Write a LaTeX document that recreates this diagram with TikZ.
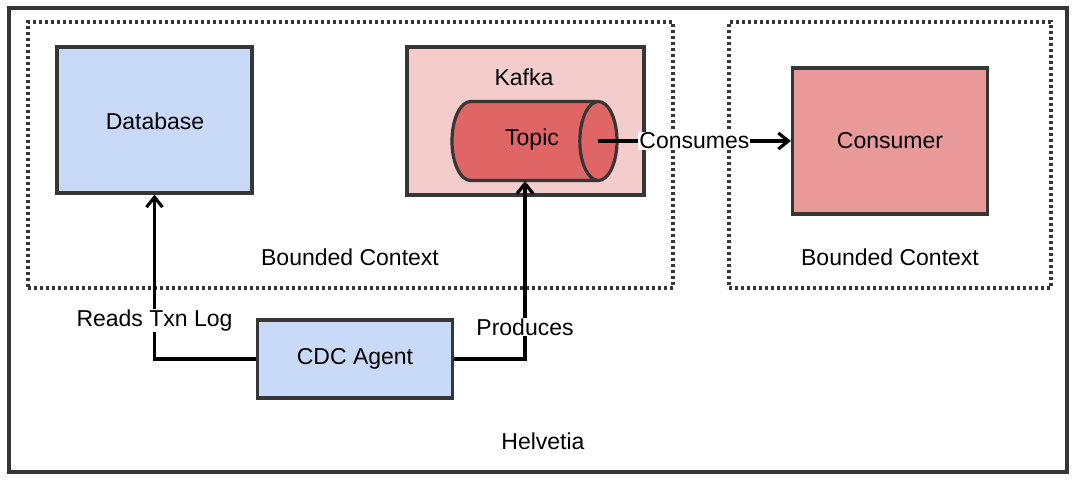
\documentclass[tikz,border=0pt]{standalone}
\usepackage{fontspec}
\setmainfont{Liberation Sans}
\usetikzlibrary{arrows.meta,shapes.geometric}

\definecolor{boxblue}{HTML}{C9DAF8}
\definecolor{kafkapink}{HTML}{F4CCCC}
\definecolor{topicred}{HTML}{E06666}
\definecolor{consumerred}{HTML}{EA9999}
\definecolor{edgegray}{HTML}{363636}

\tikzset{
  box/.style={draw=edgegray, line width=3.2pt, minimum width=195pt, minimum height=146pt, inner sep=0pt},
  ctx/.style={draw=edgegray, line width=3.2pt, dash pattern=on 3pt off 3pt, inner sep=0pt},
  flow/.style={line width=3.2pt, -{Straight Barb[length=10pt,width=16pt,line width=3.2pt]}},
  lbl/.style={fill=white, inner sep=1pt},
}

\begin{document}
\begin{tikzpicture}[x=1pt, y=-1pt, font=\fontsize{23}{27}\selectfont]
            \useasboundingbox (0,0) rectangle (1078,481);
            \node[draw=edgegray, line width=3.2pt, minimum width=1058pt, minimum height=464pt] (helvetia) at (538,240) {};
            \node[ctx, minimum width=645pt, minimum height=266pt] (bcleft) at (350.5,155) {};
            \node[ctx, minimum width=322pt, minimum height=266pt] (bcright) at (890,155) {};
            \node at (350,257) {Bounded Context};
            \node at (890,257) {Bounded Context};
            \node at (543,441) {Helvetia};
            % database side
            \node[box, fill=boxblue] (db) at (154.5,120) {};
            \node at (155,121) {Database};
            \node[box, fill=boxblue, minimum height=78pt] (agent) at (355,359) {CDC Agent};
            % kafka
            \node[box, fill=kafkapink, minimum width=237pt, minimum height=148pt] (kafka) at (525.5,121) {};
            \node at (524,77) {Kafka};
            \node[cylinder, shape border rotate=0, aspect=0.48, draw=edgegray, line width=3.2pt, fill=topicred,
                  minimum width=79pt, minimum height=165pt, inner xsep=4pt, inner ysep=28pt] (topic) at (515.5,141) {\phantom{Topic}};
            \node at (532,140) {Topic};
            \coordinate (topicend) at (598,141);
            \coordinate (topicin) at (525,181);
            % consumer
            \node[box, fill=consumerred] (consumer) at (890,141) {Consumer};
            % connectors
            \draw[flow] (agent.west) -| node[lbl, pos=0.617] {Reads Txn Log} (db.south);
            \draw[flow] (agent.east) -| node[lbl, pos=0.59] {Produces} (topicin);
            \draw[flow] (topicend) -- node[lbl] {Consumes} (consumer.west);
        \end{tikzpicture}
\end{document}
